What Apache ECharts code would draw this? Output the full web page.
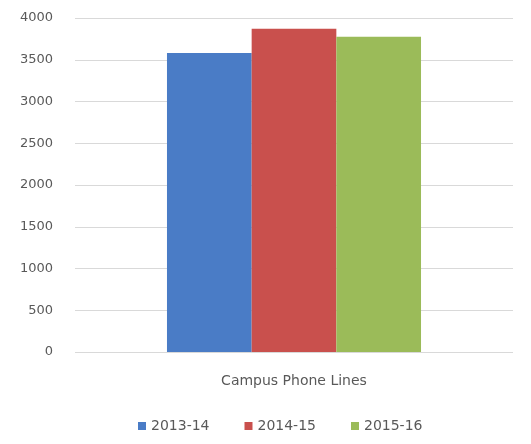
<!DOCTYPE html>
<html>
<head>
<meta charset="utf-8">
<script src="https://cdn.jsdelivr.net/npm/echarts@6/dist/echarts.min.js"></script>
<style>
  html, body { margin: 0; padding: 0; background: #fff; }
  #chart { width: 531px; height: 444px; }
</style>
</head>
<body>
<div id="chart"></div>
<script>
// Campus phone line counts by fiscal year
const categories = ['Campus Phone Lines'];
const seriesNames = ['2013-14', '2014-15', '2015-16'];
const values2013 = [3580];
const values2014 = [3870];
const values2015 = [3775];
const yTicks = { min: 0, max: 4000, interval: 500 };

const colors = ['#4a7cc6', '#c9504d', '#9bbb59'];
const seriesValues = [values2013, values2014, values2015];

const chart = echarts.init(document.getElementById('chart'));
chart.setOption({
  animation: false,
  textStyle: { fontFamily: 'DejaVu Sans, sans-serif' },
  grid: { left: 75, right: 18, top: 18, bottom: 92 },
  legend: {
    bottom: 6,
    left: 133,
    itemWidth: 8,
    itemHeight: 8,
    itemGap: 35,
    icon: 'rect',
    textStyle: { color: '#595959', fontSize: 14, fontFamily: 'DejaVu Sans' },
    data: seriesNames
  },
  xAxis: {
    type: 'category',
    data: categories,
    axisLine: { show: false },
    axisTick: { show: false },
    axisLabel: { color: '#595959', fontSize: 14, margin: 22, fontFamily: 'DejaVu Sans' }
  },
  yAxis: {
    type: 'value',
    min: yTicks.min,
    max: yTicks.max,
    interval: yTicks.interval,
    axisLine: { show: false },
    axisTick: { show: false },
    axisLabel: {
      color: '#595959',
      fontSize: 13,
      margin: 22,
      fontFamily: 'DejaVu Sans',
      formatter: v => String(v)
    },
    splitLine: { lineStyle: { color: '#d9d9d9', width: 1 } }
  },
  series: seriesNames.map((name, i) => ({
    name: name,
    type: 'bar',
    data: seriesValues[i],
    barGap: '0%',
    barCategoryGap: '42%',
    itemStyle: { color: colors[i] }
  }))
});
</script>
</body>
</html>
